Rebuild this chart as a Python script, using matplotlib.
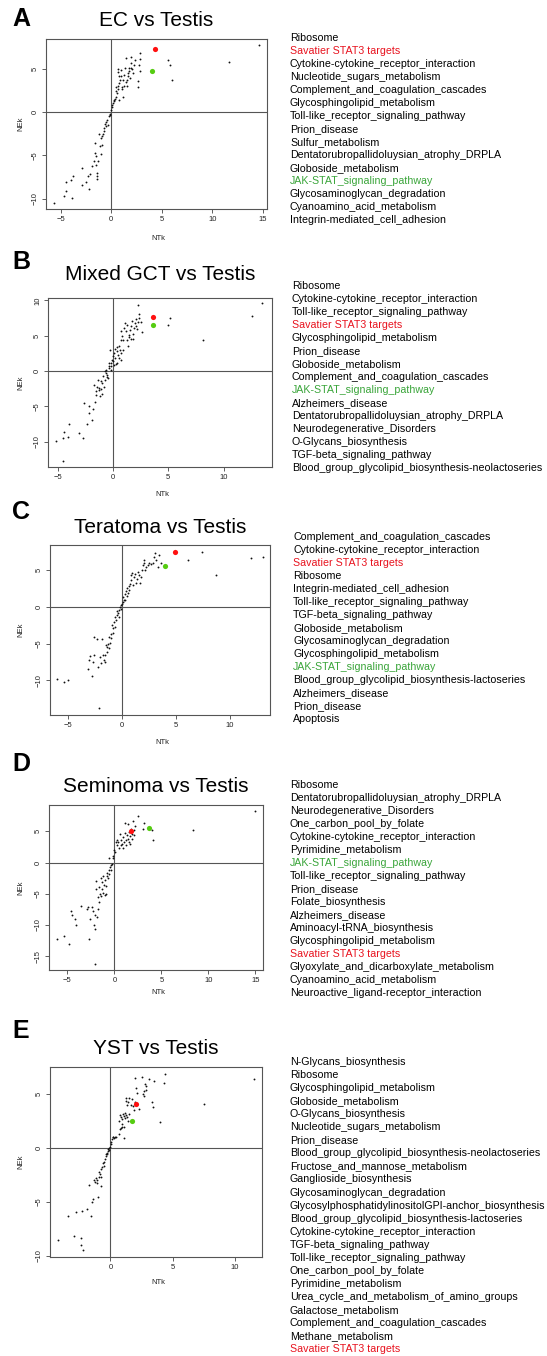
import matplotlib
matplotlib.use("Agg")
import matplotlib.pyplot as plt

plt.rcParams['font.family'] = ['Liberation Sans', 'DejaVu Sans']

W, H = 547, 1356

# ---- panel A : EC vs Testis ----
a_x = [-5.7, -4.7, -4.5, -4.5, -4.0, -3.8, -3.9, -2.9, -2.9, -2.5, -2.3, -2.2, -2.1, -1.9, -1.7,
       -1.6, -1.5, -1.6, -1.5, -1.4, -1.45, -1.4, -1.3, -1.2, -1.15, -1.0, -1.0, -0.95, -0.9, -0.8,
       -0.75, -0.7, -0.6, -0.56, -0.5, -0.43, -0.36, -0.23, -0.16, -0.1, 0.0, 0.07, 0.1, 0.16, 0.23,
       0.3, 0.4, 0.5, 0.56, 0.62, 0.5, 0.7, 0.8, 0.9, 0.72, 0.62, 0.7, 0.95, 1.05, 1.15, 1.2, 1.3,
       1.4, 1.5, 1.55, 1.6, 1.7, 1.8, 1.9, 1.94, 2.0, 2.07, 2.2, 2.27, 2.37, 2.6, 2.66, 2.73, 2.8,
       2.8, 2.86, 1.05, 1.3, 1.5, 1.64, 1.8, 1.94, 1.0, 0.43, 0.76, 5.66, 5.8, 6.05, 11.6, 14.6]
a_y = [-10.5, -9.65, -9.15, -8.1, -7.9, -7.35, -9.96, -6.5, -8.4, -8.1, -7.4, -8.85, -7.2, -6.2, -5.7,
       -4.7, -5.1, -3.6, -6.1, -7.0, -7.4, -7.7, -5.7, -2.6, -3.96, -4.9, -3.0, -3.8, -2.8, -2.5,
       -2.2, -1.8, -1.35, -1.6, -1.2, -0.96, -1.46, -0.5, -0.23, -0.3, 0.27, 0.58, 0.8, 1.0, 1.23,
       1.35, 1.5, 1.73, 2.2, 2.6, 2.9, 3.0, 3.35, 3.7, 4.1, 4.6, 4.9, 4.8, 2.9, 1.73, 3.7, 4.3,
       5.1, 6.2, 3.0, 3.7, 4.5, 5.1, 3.9, 5.7, 6.3, 4.9, 4.5, 5.46, 6.0, 2.9, 3.6, 5.46, 6.8,
       6.1, 4.7, 2.6, 3.0, 3.5, 4.2, 4.7, 5.1, 4.2, 2.4, 1.35, 5.96, 5.4, 3.65, 5.77, 7.7]
a_red = (4.28, 7.3)
a_green = (4.05, 4.77)
a_labels = ["Ribosome", "Savatier STAT3 targets", "Cytokine-cytokine_receptor_interaction",
            "Nucleotide_sugars_metabolism", "Complement_and_coagulation_cascades",
            "Glycosphingolipid_metabolism", "Toll-like_receptor_signaling_pathway", "Prion_disease",
            "Sulfur_metabolism", "Dentatorubropallidoluysian_atrophy_DRPLA", "Globoside_metabolism",
            "JAK-STAT_signaling_pathway", "Glycosaminoglycan_degradation",
            "Cyanoamino_acid_metabolism", "Integrin-mediated_cell_adhesion"]

# ---- panel B : Mixed GCT vs Testis ----
b_x = [-5.15, -4.55, -4.5, -4.43, -4.04, -3.95, -3.07, -2.7, -2.6, -2.32, -2.2, -2.14, -1.9, -1.78,
       -1.72, -1.6, -1.57, -1.54, -1.42, -1.36, -1.3, -1.23, -1.17, -1.11, -1.05, -1.0, -0.93, -0.81,
       -0.75, -0.7, -0.63, -0.57, -0.51, -0.45, -0.39, -0.33, -0.27, -0.21, -0.15, -0.09, -0.03, 0.03,
       0.09, 0.15, 0.2, 0.27, 0.33, 0.39, 0.45, 0.5, 0.57, 0.63, 0.69, 0.75, 0.69, 0.75, 0.81, 0.87,
       0.93, 0.99, 1.08, 1.17, 1.23, 1.3, 1.36, 1.42, 1.48, 1.54, 1.6, 1.66, 1.72, 1.8, 1.84, 1.9,
       1.96, 2.05, 2.1, 2.17, 2.23, 2.26, 2.32, 2.38, 2.5, 2.6, 5.0, 5.15, 8.16, 12.56, 13.5,
       -1.0, -0.63, -0.39, 0.12, 0.36, -0.2]
b_y = [-9.9, -12.7, -9.5, -8.6, -9.4, -7.47, -8.75, -9.5, -4.54, -7.5, -5.0, -5.96, -7.0, -5.4,
       -1.94, -4.35, -2.9, -3.36, -2.2, -1.23, -2.74, -2.4, -3.5, -2.55, -1.47, -3.2, -0.76, -2.2,
       -1.23, -0.05, 0.19, -0.52, -0.85, -1.0, 0.43, 0.76, 3.0, 1.13, 0.66, 1.6, 2.08, 1.37,
       2.55, 1.8, 3.12, 1.04, 2.8, 3.4, 2.3, 3.6, 1.84, 2.93, 1.6, 2.55, 4.44, 5.63, 5.0, 3.0,
       4.44, 6.1, 6.8, 5.63, 4.44, 6.48, 3.6, 5.15, 4.82, 5.86, 4.54, 6.34, 7.05, 5.3, 4.54, 6.1,
       6.8, 7.37, 6.43, 5.96, 9.4, 7.0, 8.1, 7.5, 6.9, 5.5, 6.5, 7.47, 4.4, 7.85, 9.6,
       -1.7, -0.28, 1.13, 0.9, 1.2, 0.2]
b_red = (3.64, 7.7)
b_green = (3.58, 6.57)
b_labels = ["Ribosome", "Cytokine-cytokine_receptor_interaction",
            "Toll-like_receptor_signaling_pathway", "Savatier STAT3 targets",
            "Glycosphingolipid_metabolism", "Prion_disease", "Globoside_metabolism",
            "Complement_and_coagulation_cascades", "JAK-STAT_signaling_pathway",
            "Alzheimers_disease", "Dentatorubropallidoluysian_atrophy_DRPLA",
            "Neurodegenerative_Disorders", "O-Glycans_biosynthesis", "TGF-beta_signaling_pathway",
            "Blood_group_glycolipid_biosynthesis-neolactoseries"]

# ---- panel C : Teratoma vs Testis ----
c_x = [-6.04, -5.36, -5.05, -3.19, -3.1, -2.94, -2.82, -2.72, -2.63, -2.6, -2.32, -2.26, -2.1, -2.04,
       -1.95, -1.89, -1.8, -1.7, -1.6, -1.55, -1.49, -1.42, -1.36, -1.3, -1.24, -1.18, -1.11, -1.05,
       -0.99, -0.93, -0.87, -0.8, -0.74, -0.68, -0.62, -0.56, -0.5, -0.43, -0.37, -0.31, -0.25, -0.19,
       -0.12, -0.06, 0.0, 0.06, 0.12, 0.19, 0.25, 0.31, 0.37, 0.43, 0.5, 0.56, 0.62, 0.68, 0.74,
       0.8, 0.87, 0.93, 0.99, 1.15, 1.24, 1.3, 1.39, 1.49, 1.6, 1.67, 1.8, 1.86, 1.95, 2.0, 2.07,
       2.14, 2.23, 2.38, 2.54, 2.7, 2.84, 2.94, 3.03, 3.16, 3.31, 3.4, 3.62, 6.1, 7.43, 8.73,
       12.0, 13.06]
c_y = [-9.85, -10.17, -9.9, -8.5, -7.23, -6.7, -9.4, -7.45, -6.55, -4.16, -4.38, -8.13, -13.8, -6.78,
       -7.68, -4.38, -6.55, -7.23, -6.55, -7.45, -5.2, -5.5, -6.1, -5.06, -5.65, -4.16, -4.88, -3.7,
       -4.3, -2.49, -2.94, -3.52, -2.03, -2.71, -1.36, -1.8, -0.54, -1.13, -0.9, -1.45, -0.45, -0.09,
       0.23, -0.23, 0.45, 0.68, 1.27, 0.99, 1.72, 0.9, 2.17, 1.45, 2.49, 1.9, 2.8, 2.26, 3.16,
       4.29, 3.6, 4.6, 2.94, 4.07, 4.5, 3.25, 3.84, 4.74, 4.29, 3.25, 4.07, 5.06, 5.65, 5.96, 6.4,
       4.97, 5.42, 5.65, 5.96, 5.78, 6.0, 6.78, 7.32, 6.33, 5.42, 7.0, 5.96, 6.4, 7.46, 4.29,
       6.64, 6.78]
c_red = (4.88, 7.5)
c_green = (3.99, 5.56)
c_labels = ["Complement_and_coagulation_cascades", "Cytokine-cytokine_receptor_interaction",
            "Savatier STAT3 targets", "Ribosome", "Integrin-mediated_cell_adhesion",
            "Toll-like_receptor_signaling_pathway", "TGF-beta_signaling_pathway",
            "Globoside_metabolism", "Glycosaminoglycan_degradation",
            "Glycosphingolipid_metabolism", "JAK-STAT_signaling_pathway",
            "Blood_group_glycolipid_biosynthesis-lactoseries", "Alzheimers_disease",
            "Prion_disease", "Apoptosis"]

# ---- panel D : Seminoma vs Testis ----
d_x = [-6.13, -5.35, -4.79, -4.6, -4.54, -4.15, -4.1, -3.55, -2.94, -2.84, -2.73, -2.6, -2.38, -2.23,
       -2.16, -2.1, -2.06, -2.02, -1.99, -1.95, -1.88, -1.77, -1.7, -1.63, -1.6, -1.52, -1.45, -1.38,
       -1.31, -1.28, -1.2, -1.17, -1.1, -1.03, -0.96, -0.89, -0.89, -0.82, -0.74, -0.67, -0.6, -0.53,
       -0.46, -0.39, -0.32, -0.25, -0.57, -0.18, -0.1, -0.04, 0.07, 0.18, 0.25, 0.32, 0.43, 0.53,
       0.6, 0.67, 0.74, 0.82, 0.89, 0.96, 1.03, 1.1, 1.17, 1.2, 1.28, 1.35, 1.42, 1.45, 1.52, 1.6,
       1.63, 1.67, 1.77, 1.84, 1.91, 1.99, 2.06, 2.13, 2.2, 2.52, 3.09, 3.2, 4.0, 4.08, 8.4, 15.0]
d_y = [-12.3, -11.7, -12.96, -7.8, -8.4, -8.96, -10.0, -6.93, -7.36, -7.1, -12.16, -8.96, -7.1, -7.7,
       -10.0, -8.4, -16.2, -10.56, -4.16, -2.93, -8.7, -5.5, -7.36, -3.9, -6.3, -4.96, -2.4, -5.4,
       -3.1, -4.16, -4.85, -2.19, -3.63, -5.23, -2.83, -3.79, -4.96, -2.19, -1.65, -2.4, -1.23, -1.87,
       -0.69, -1.12, -0.43, -0.16, 0.75, 0.8, 1.0, 1.97, 1.65, 3.3, 3.68, 2.77, 3.3, 2.4,
       4.53, 3.57, 2.77, 3.04, 2.4, 4.1, 3.3, 4.75, 6.35, 3.57, 2.77, 4.37, 3.84, 6.13, 4.9, 3.3,
       4.2, 3.04, 5.44, 3.84, 4.64, 6.67, 5.17, 4.37, 5.8, 7.4, 5.44, 6.35, 5.17, 3.57, 5.17, 8.2]
d_red = (1.77, 5.0)
d_green = (3.69, 5.5)
d_labels = ["Ribosome", "Dentatorubropallidoluysian_atrophy_DRPLA", "Neurodegenerative_Disorders",
            "One_carbon_pool_by_folate", "Cytokine-cytokine_receptor_interaction",
            "Pyrimidine_metabolism", "JAK-STAT_signaling_pathway",
            "Toll-like_receptor_signaling_pathway", "Prion_disease", "Folate_biosynthesis",
            "Alzheimers_disease", "Aminoacyl-tRNA_biosynthesis", "Glycosphingolipid_metabolism",
            "Savatier STAT3 targets", "Glyoxylate_and_dicarboxylate_metabolism",
            "Cyanoamino_acid_metabolism", "Neuroactive_ligand-receptor_interaction"]

# ---- panel E : YST vs Testis ----
e_x = [-4.19, -3.44, -2.9, -2.77, -2.37, -2.34, -2.28, -2.23, -1.9, -1.72, -1.53, -1.48, -1.42, -1.34,
       -1.26, -1.18, -1.1, -1.05, -1.0, -0.94, -0.89, -0.83, -0.78, -0.73, -0.73, -0.67, -0.62, -0.56,
       -0.51, -0.46, -0.4, -0.35, -0.32, -0.27, -0.24, -0.19, -0.13, -0.08, -0.03, 0.03, 0.08, 0.13,
       0.19, 0.24, 0.3, 0.38, 0.46, 0.67, 0.73, 0.81, 0.89, 0.94, 1.05, 1.1, 0.65, 0.73, 0.83, 0.91,
       1.0, 1.05, 1.13, 1.18, 1.26, 1.34, 1.42, 1.53, 1.21, 1.26, 1.34, 1.45, 1.53, 1.64, 1.72, 1.8,
       1.88, 1.94, 1.99, 2.07, 2.12, 2.26, 2.53, 2.61, 2.66, 2.72, 2.77, 2.85, 2.88, 3.09, 3.33,
       3.39, 3.52, 3.95, 4.27, 4.35, 7.55, 11.59]
e_y = [-8.55, -6.3, -8.18, -5.93, -8.3, -8.95, -5.83, -9.41, -5.71, -3.43, -6.3, -5.06, -4.72, -3.0,
       -3.18, -2.84, -3.24, -3.0, -4.54, -2.69, -2.22, -2.47, -2.0, -2.75, -3.55, -1.76, -1.45, -1.7,
       -1.3, -1.05, -0.77, -0.59, -0.46, -0.59, -0.28, -0.15, -0.22, -0.06, 0.09, 0.34, 0.56, 0.77,
       0.96, 0.96, 0.86, 1.02, 0.96, 1.27, 1.7, 1.79, 2.19, 1.88, 0.86, 1.94, 2.5, 3.02, 2.8, 2.62,
       3.12, 2.93, 3.18, 2.72, 3.02, 2.8, 2.5, 3.12, 4.57, 4.35, 3.95, 4.26, 4.57, 3.95, 4.48, 3.86,
       3.49, 6.48, 4.26, 5.49, 5.09, 3.55, 6.57, 4.97, 5.19, 4.78, 5.9, 5.65, 5.34, 6.36, 4.26,
       3.73, 6.2, 2.41, 5.96, 6.82, 4.04, 6.36]
e_red = (2.04, 4.04)
e_green = (1.75, 2.5)
e_labels = ["N-Glycans_biosynthesis", "Ribosome", "Glycosphingolipid_metabolism",
            "Globoside_metabolism", "O-Glycans_biosynthesis", "Nucleotide_sugars_metabolism",
            "Prion_disease", "Blood_group_glycolipid_biosynthesis-neolactoseries",
            "Fructose_and_mannose_metabolism", "Ganglioside_biosynthesis",
            "Glycosaminoglycan_degradation", "GlycosylphosphatidylinositolGPI-anchor_biosynthesis",
            "Blood_group_glycolipid_biosynthesis-lactoseries",
            "Cytokine-cytokine_receptor_interaction", "TGF-beta_signaling_pathway",
            "Toll-like_receptor_signaling_pathway", "One_carbon_pool_by_folate",
            "Pyrimidine_metabolism", "Urea_cycle_and_metabolism_of_amino_groups",
            "Galactose_metabolism", "Complement_and_coagulation_cascades", "Methane_metabolism",
            "Savatier STAT3 targets"]

RED_TXT = "#e8131f"
GREEN_TXT = "#3aa53a"

# letter, title, data, axes box in pixels (l, r, t, b), limits, xticks, yticks,
# letter y, title y, x-label y, list x, list first line y
panels = [
    ("A", "EC vs Testis", a_x, a_y, a_red, a_green, a_labels,
     (46, 267, 39, 209), (-6.45, 15.4), (-11.2, 8.42), [-5, 0, 5, 10, 15], [-10, -5, 0, 5],
     19, 21, 238, 290, 37.7),
    ("B", "Mixed GCT vs Testis", b_x, b_y, b_red, b_green, b_labels,
     (48, 272, 298, 467), (-5.88, 14.38), (-13.6, 10.35), [-5, 0, 5, 10], [-10, -5, 0, 5, 10],
     262, 275, 494, 292, 286),
    ("C", "Teratoma vs Testis", c_x, c_y, c_red, c_green, c_labels,
     (50, 270, 545, 715), (-6.7, 13.75), (-14.7, 8.4), [-5, 0, 5, 10], [-10, -5, 0, 5],
     512, 528, 743, 293, 537),
    ("D", "Seminoma vs Testis", d_x, d_y, d_red, d_green, d_labels,
     (49, 263, 805, 970), (-6.95, 15.8), (-17.2, 9.2), [-5, 0, 5, 10, 15], [-15, -10, -5, 0, 5],
     764, 786, 993, 290, 785),
    ("E", "YST vs Testis", e_x, e_y, e_red, e_green, e_labels,
     (50, 262, 1067, 1257), (-4.87, 12.2), (-10.1, 7.45), [0, 5, 10], [-10, -5, 0, 5],
     1031, 1048, 1283, 290, 1062.3),
]

fig = plt.figure(figsize=(W / 100, H / 100), dpi=100)
fig.patch.set_facecolor("white")


def fx(px):
    return px / W


def fy(py):
    return 1 - py / H


for (letter, title, xs, ys, red, green, labels, box, xlim, ylim, xt, yt,
     letter_y, title_y, xlab_y, list_x, list_y) in panels:
    l, r, t, b = box
    ax = fig.add_axes([fx(l), fy(b), (r - l) / W, (b - t) / H])
    ax.axhline(0, color="#555555", lw=0.8, zorder=1)
    ax.axvline(0, color="#555555", lw=0.8, zorder=1)
    ax.scatter(xs, ys, s=1.8, color="#111111", linewidths=0, zorder=2)
    ax.scatter([red[0]], [red[1]], s=14, color="#ff1010", linewidths=0, zorder=3)
    ax.scatter([green[0]], [green[1]], s=14, color="#55cc11", linewidths=0, zorder=3)
    ax.set_xlim(xlim)
    ax.set_ylim(ylim)
    ax.set_xticks(xt)
    ax.set_yticks(yt)
    ax.tick_params(labelsize=5.5, length=3, width=0.6, color="#444444", labelcolor="#222222", pad=2)
    for lab in ax.get_yticklabels():
        lab.set_rotation(90)
        lab.set_va("center")
    for sp in ax.spines.values():
        sp.set_color("#555555")
        sp.set_linewidth(0.8)

    fig.text(fx(12), fy(letter_y), letter, fontsize=18, fontweight="bold", va="center", ha="left")
    fig.text(fx((l + r) / 2), fy(title_y), title, fontsize=15, va="center", ha="center")
    fig.text(fx((l + r) / 2 + 2), fy(xlab_y), "NTk", fontsize=5.5, va="center", ha="center",
             color="#222222")
    fig.text(fx(21), fy((t + b) / 2), "NEk", fontsize=5.5, va="center", ha="center",
             rotation=90, color="#222222")

    for i, name in enumerate(labels):
        col = "black"
        if name == "Savatier STAT3 targets":
            col = RED_TXT
        elif name == "JAK-STAT_signaling_pathway":
            col = GREEN_TXT
        fig.text(fx(list_x), fy(list_y + i * 13.02), name, fontsize=7.65, va="center",
                 ha="left", color=col)

fig.savefig("out.png", dpi=100)
